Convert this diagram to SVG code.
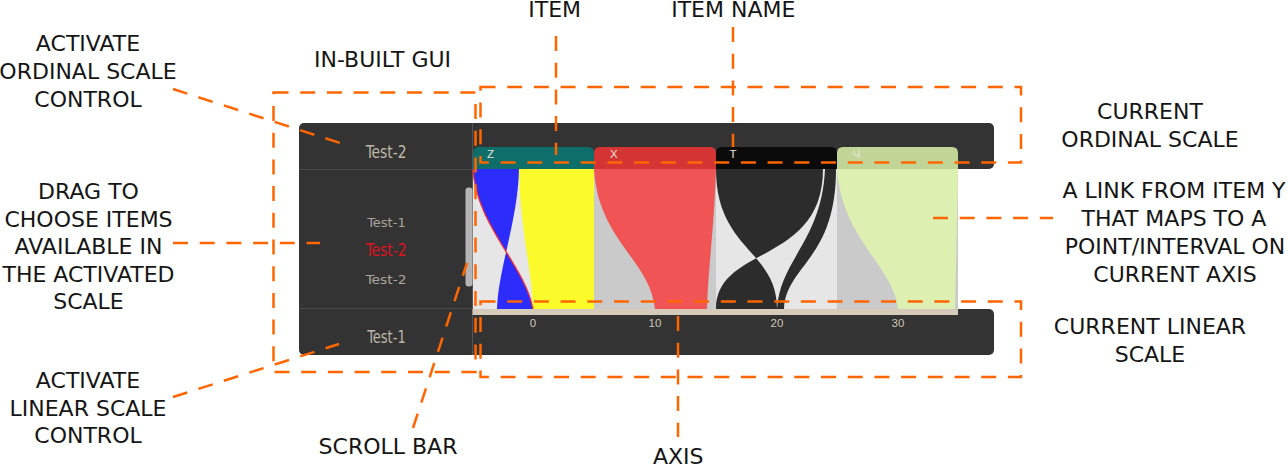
<svg xmlns="http://www.w3.org/2000/svg" width="1288" height="465" viewBox="0 0 1288 465">
<style>
.callout{font-family:"DejaVu Sans","Liberation Sans",sans-serif;font-size:22px;fill:#151515;text-anchor:middle}
.dash{fill:none;stroke:#ff6600;stroke-width:2.5;stroke-dasharray:15 11.7}
.panel{fill:#333333}
.gui{font-family:"Liberation Sans Narrow","DejaVu Sans Condensed","Liberation Sans",sans-serif}
.tick{font-family:"Liberation Sans",sans-serif;font-size:11.5px;fill:#cfc6b8;text-anchor:middle}
.hdr{font-family:"Liberation Sans",sans-serif;font-size:11.5px;fill:#e8e4d8}
</style>
<rect width="1288" height="465" fill="#ffffff"/>

<g id="gui-panel">
  <rect class="panel" x="299" y="123" width="695" height="46" rx="5"/>
  <rect class="panel" x="299" y="309" width="695" height="46" rx="5"/>
  <rect class="panel" x="299" y="150" width="174" height="180"/>
  <line x1="299" y1="169.5" x2="472" y2="169.5" stroke="#4a4a4a" stroke-width="1"/>
  <line x1="299" y1="308.5" x2="472" y2="308.5" stroke="#4a4a4a" stroke-width="1"/>
  <line x1="472.5" y1="123" x2="472.5" y2="355" stroke="#555555" stroke-width="1"/>
  <rect x="465.5" y="187.5" width="7" height="99" rx="3" fill="#b5b5b5"/>
  <text class="gui" x="365.7" y="158.3" font-size="18" fill="#bdb7aa" textLength="41" lengthAdjust="spacingAndGlyphs">Test-2</text>
  <text class="gui" x="367.3" y="227.3" font-size="12.5" fill="#aaa49a" textLength="38.4" lengthAdjust="spacingAndGlyphs">Test-1</text>
  <text class="gui" x="365.7" y="255.7" font-size="18" fill="#dd1420" textLength="41" lengthAdjust="spacingAndGlyphs">Test-2</text>
  <text class="gui" x="365.7" y="283.7" font-size="12.5" fill="#aaa49a" textLength="41" lengthAdjust="spacingAndGlyphs">Test-2</text>
  <text class="gui" x="367.3" y="343.3" font-size="18" fill="#bdb7aa" textLength="38.4" lengthAdjust="spacingAndGlyphs">Test-1</text>
</g>

<g id="plot-area">
  <rect x="958" y="169" width="36" height="140" fill="#ffffff"/>
  <rect x="472.5" y="309" width="485.5" height="6" fill="#d6cbbb"/>
  <text class="tick" x="533" y="326.5">0</text>
  <text class="tick" x="655" y="326.5">10</text>
  <text class="tick" x="777" y="326.5">20</text>
  <text class="tick" x="898" y="326.5">30</text>
</g>

<g id="item-z">
  <path d="M473,169 V153 Q473,147 479,147 H588 Q594,147 594,153 V169 Z" fill="#0e6e6a"/>
  <text class="hdr" x="487" y="158.3">Z</text>
  <rect x="473" y="169" width="121" height="140" fill="#e6e6e6"/>
  <path d="M519,169 L594,169 L594,309 L533,309 C532,270 520,230 519,169 Z" fill="#fbfb2c"/>
  <path d="M473,169 L519,169 C518,220 498,270 497,309 L533,309 C525,265 476,225 473,169 Z" fill="#2c2cfb"/>
  <path d="M473,169 C476,225 525,265 533,309" fill="none" stroke="#ff2a2a" stroke-width="1.2"/>
</g>

<g id="item-x">
  <path d="M594,169 V153 Q594,147 600,147 H710 Q716,147 716,153 V169 Z" fill="#d43434"/>
  <text class="hdr" x="610" y="158.3">X</text>
  <rect x="594" y="169" width="122" height="140" fill="#cacaca"/>
  <path d="M594,169 L716,169 C714,230 708,270 707,309 L655,309 C650,260 598,240 594,169 Z" fill="#f05454"/>
</g>

<g id="item-t">
  <path d="M716,169 V153 Q716,147 722,147 H831 Q837,147 837,153 V169 Z" fill="#0b0b0b"/>
  <text class="hdr" x="729.5" y="158.3">T</text>
  <rect x="716" y="169" width="121" height="140" fill="#e6e6e6"/>
  <path d="M716,169 L823,169 C823,265 716,245 716,309 L777,309 C777,250 716,250 716,169 Z" fill="#2c2c2c"/>
  <path d="M825,169 L836,169 C836,260 786,265 784,309 L777,309 C780,260 822,240 825,169 Z" fill="#2c2c2c"/>
</g>

<g id="item-ch">
  <path d="M837,169 V153 Q837,147 843,147 H952 Q958,147 958,153 V169 Z" fill="#c0d596"/>
  <text class="hdr" x="852.5" y="158.3" fill="#f4f4e0">Ч</text>
  <rect x="837" y="169" width="121" height="140" fill="#cacaca"/>
  <path d="M837,169 L958,169 C957,230 956,270 955,309 L898,309 C893,265 842,240 837,169 Z" fill="#ddefb1"/>
</g>

<g id="box-inbuilt-gui">
  <rect class="dash" x="273.5" y="92.5" width="202" height="279.5"/>
</g>
<g id="box-ordinal-scale">
  <rect class="dash" x="480.5" y="87" width="540.5" height="75.5"/>
</g>
<g id="box-linear-scale">
  <rect class="dash" x="480.5" y="301.5" width="540.5" height="75.5"/>
</g>

<g id="connectors">
  <line class="dash" x1="173" y1="89" x2="340" y2="143"/>
  <line class="dash" x1="173" y1="243" x2="320" y2="243"/>
  <line class="dash" x1="173" y1="397" x2="339" y2="344"/>
  <line class="dash" x1="413" y1="428" x2="467" y2="263"/>
  <line class="dash" x1="556" y1="36" x2="556" y2="155"/>
  <line class="dash" x1="733" y1="27" x2="733" y2="147"/>
  <line class="dash" x1="678" y1="316" x2="678" y2="437"/>
  <line class="dash" x1="933" y1="218" x2="1053" y2="218"/>
</g>

<g id="label-activate-ordinal">
  <text class="callout" x="88" y="51">ACTIVATE</text>
  <text class="callout" x="88" y="79">ORDINAL SCALE</text>
  <text class="callout" x="88" y="106.5">CONTROL</text>
</g>
<g id="label-inbuilt-gui">
  <text class="callout" x="382.5" y="66.7">IN-BUILT GUI</text>
</g>
<g id="label-item">
  <text class="callout" x="554.7" y="17">ITEM</text>
</g>
<g id="label-item-name">
  <text class="callout" x="733.3" y="17">ITEM NAME</text>
</g>
<g id="label-current-ordinal">
  <text class="callout" x="1150" y="119.3">CURRENT</text>
  <text class="callout" x="1150" y="147.3">ORDINAL SCALE</text>
</g>
<g id="label-drag">
  <text class="callout" x="88.5" y="199.3">DRAG TO</text>
  <text class="callout" x="88.5" y="226.7">CHOOSE ITEMS</text>
  <text class="callout" x="88.5" y="254">AVAILABLE IN</text>
  <text class="callout" x="88.5" y="281.7">THE ACTIVATED</text>
  <text class="callout" x="88.5" y="309.3">SCALE</text>
</g>
<g id="label-link">
  <text class="callout" x="1174" y="198.3">A LINK FROM ITEM Y</text>
  <text class="callout" x="1174" y="226">THAT MAPS TO A</text>
  <text class="callout" x="1175" y="254">POINT/INTERVAL ON</text>
  <text class="callout" x="1175" y="281.7">CURRENT AXIS</text>
</g>
<g id="label-current-linear">
  <text class="callout" x="1150" y="334">CURRENT LINEAR</text>
  <text class="callout" x="1150" y="361.7">SCALE</text>
</g>
<g id="label-activate-linear">
  <text class="callout" x="88" y="388.3">ACTIVATE</text>
  <text class="callout" x="88" y="416">LINEAR SCALE</text>
  <text class="callout" x="88" y="443.3">CONTROL</text>
</g>
<g id="label-scroll-bar">
  <text class="callout" x="388" y="454.3">SCROLL BAR</text>
</g>
<g id="label-axis">
  <text class="callout" x="678.3" y="464">AXIS</text>
</g>
</svg>
